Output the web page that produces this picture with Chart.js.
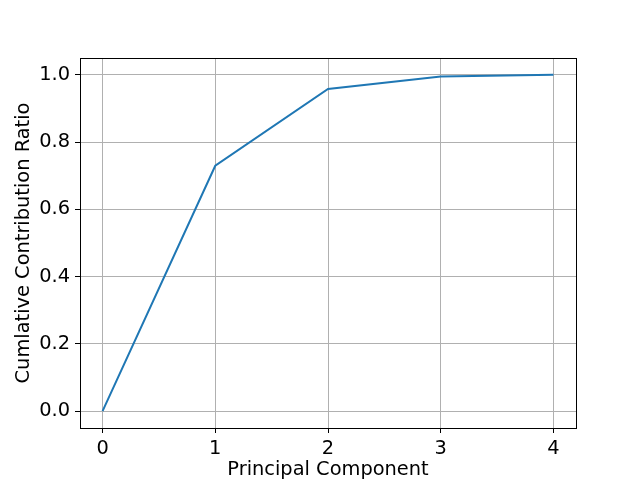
<!DOCTYPE html>
<html>
<head>
<meta charset="utf-8">
<style>
  html, body { margin: 0; padding: 0; background: #fff; }
  #wrap { width: 640px; height: 480px; }
</style>
<script src="https://cdn.jsdelivr.net/npm/chart.js@4/dist/chart.umd.min.js"></script>
</head>
<body>
<div id="wrap"><canvas id="chart" width="640" height="480"></canvas></div>
<script>
  // principal component index vs cumulative contribution ratio
  const components = [0, 1, 2, 3, 4];
  const cumRatio = [0, 0.7296, 0.9581, 0.9948, 1.0];
  const xTicks = [0, 1, 2, 3, 4];
  const yTicks = [0.0, 0.2, 0.4, 0.6, 0.8, 1.0];

  const FONT = { family: 'DejaVu Sans', size: 19.4 };

  // matplotlib-style box around the plot area
  const frame = {
    id: 'frame',
    afterDraw(chart) {
      const a = chart.chartArea, ctx = chart.ctx;
      ctx.save();
      ctx.strokeStyle = '#000';
      ctx.lineWidth = 1;
      ctx.strokeRect(Math.round(a.left) + 0.5, Math.round(a.top) + 0.5,
        Math.round(a.right - a.left), Math.round(a.bottom - a.top));
      ctx.restore();
    }
  };

  new Chart(document.getElementById('chart'), {
    type: 'line',
    data: {
      datasets: [{
        data: components.map((c, i) => ({ x: c, y: cumRatio[i] })),
        borderColor: '#1f77b4',
        borderWidth: 2,
        pointRadius: 0,
        tension: 0,
        fill: false
      }]
    },
    options: {
      responsive: false,
      animation: false,
      layout: { padding: { left: 0, right: 64, top: 58, bottom: 0 } },
      plugins: { legend: { display: false }, tooltip: { enabled: false } },
      scales: {
        x: {
          type: 'linear',
          min: -0.2,
          max: 4.2,
          afterBuildTicks: (s) => { s.ticks = xTicks.map(v => ({ value: v })); },
          afterFit: (s) => { s.height = 52; },
          ticks: { color: '#000', font: FONT, padding: 4, maxRotation: 0 },
          grid: { color: '#b0b0b0', lineWidth: 1, tickColor: '#000', tickLength: 5 },
          border: { color: '#000', width: 1 },
          title: { display: true, text: 'Principal Component', color: '#000',
                   font: { family: 'DejaVu Sans', size: 19.4, lineHeight: 1.0 }, padding: { top: 4, bottom: 0 } }
        },
        y: {
          type: 'linear',
          min: -0.05,
          max: 1.05,
          afterBuildTicks: (s) => { s.ticks = yTicks.map(v => ({ value: v })); },
          afterFit: (s) => { s.width = 80; },
          ticks: { color: '#000', font: FONT, padding: 5, callback: (v) => Number(v).toFixed(1) },
          grid: { color: '#b0b0b0', lineWidth: 1, tickColor: '#000', tickLength: 5 },
          border: { color: '#000', width: 1 },
          title: { display: true, text: 'Cumlative Contribution Ratio', color: '#000', font: FONT, padding: { top: 12, bottom: 0 } }
        }
      }
    },
    plugins: [frame]
  });
</script>
</body>
</html>
